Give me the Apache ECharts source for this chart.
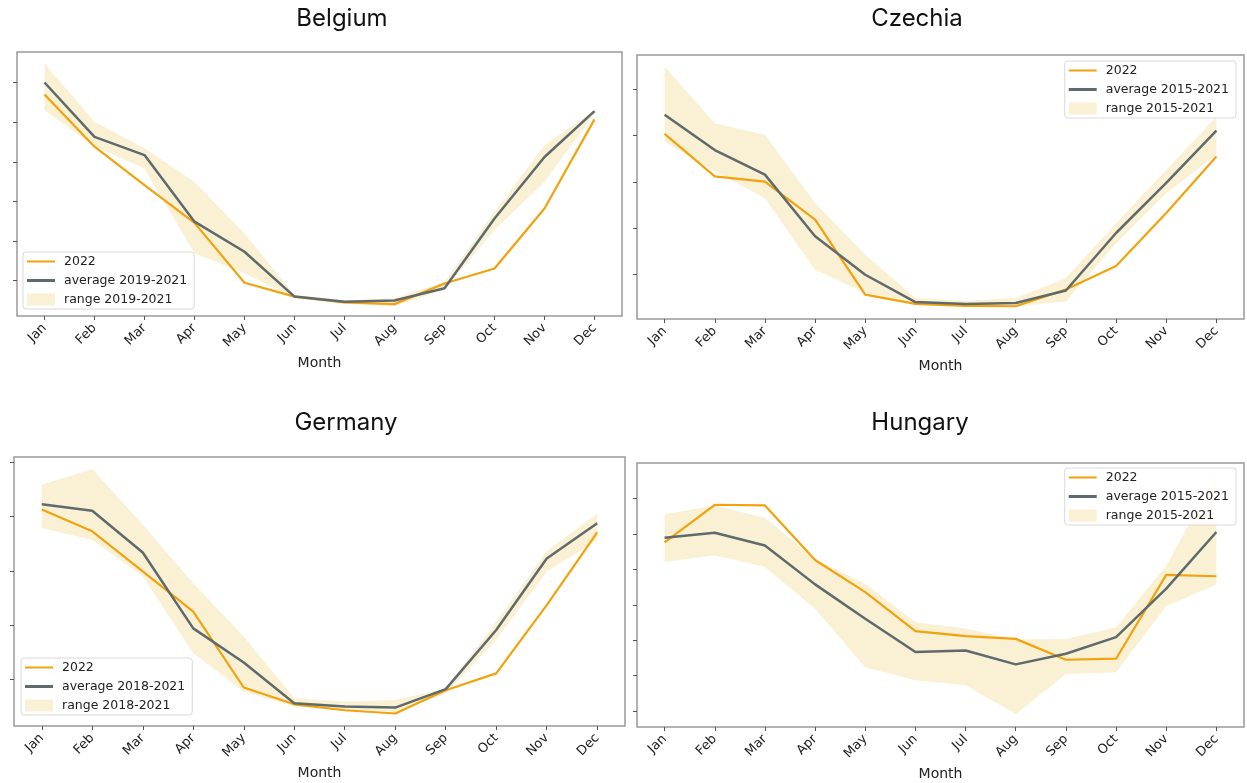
<!DOCTYPE html>
<html>
<head>
<meta charset="utf-8">
<script src="https://cdn.jsdelivr.net/npm/echarts@6/dist/echarts.min.js"></script>
<style>
html,body{margin:0;padding:0;background:#fff;}
#chart{width:1247px;height:783px;}
</style>
</head>
<body>
<div id="chart"></div>
<script>
// ---- data (arbitrary units; y axis carries no labels) ----
const months = ['Jan','Feb','Mar','Apr','May','Jun','Jul','Aug','Sep','Oct','Nov','Dec'];

const belgium2022 = [57.0, 43.8, 34.1, 24.6, 9.5, 6.0, 4.5, 4.1, 9.3, 13.1, 28.2, 50.7];
const belgiumAvg  = [60.0, 46.3, 41.7, 24.9, 17.3, 6.0, 4.7, 5.0, 8.1, 25.7, 41.2, 52.8];
const belgiumLow  = [53.0, 43.9, 38.3, 16.9, 11.9, 5.6, 4.1, 3.6, 7.7, 22.8, 34.9, 52.2];
const belgiumHigh = [64.8, 50.1, 43.4, 34.9, 21.9, 6.4, 5.1, 5.6, 9.7, 27.4, 44.2, 53.0];
const belgiumTicks = [10, 20, 30, 40, 50, 60];

const czechia2022 = [40.4, 31.2, 30.1, 21.9, 5.7, 3.7, 3.3, 3.2, 6.8, 11.9, 23.3, 35.5];
const czechiaAvg  = [44.5, 36.9, 31.6, 18.3, 10.0, 4.1, 3.7, 3.9, 6.6, 19.0, 29.8, 41.1];
const czechiaLow  = [38.7, 32.3, 26.5, 11.1, 6.1, 3.5, 3.2, 3.2, 4.2, 16.8, 27.6, 35.9];
const czechiaHigh = [54.9, 42.7, 40.2, 25.5, 14.3, 5.0, 4.4, 5.0, 9.3, 21.1, 32.6, 44.1];
const czechiaTicks = [10, 20, 30, 40, 50];

const germany2022 = [41.3, 37.3, 29.9, 22.5, 8.5, 5.4, 4.3, 3.7, 8.0, 11.1, 23.7, 37.1];
const germanyAvg  = [42.3, 41.1, 33.4, 19.4, 13.1, 5.6, 5.0, 4.8, 8.2, 19.1, 32.3, 38.8];
const germanyLow  = [37.9, 35.7, 29.0, 14.8, 7.7, 5.0, 4.5, 4.0, 7.4, 17.3, 29.9, 35.7];
const germanyHigh = [45.9, 48.8, 38.5, 27.7, 17.9, 6.5, 5.9, 6.2, 8.3, 20.6, 33.6, 40.6];
const germanyTicks = [10, 20, 30, 40, 50];

const hungary2022 = [57.7, 68.3, 68.1, 52.7, 43.6, 32.6, 31.2, 30.4, 24.5, 24.8, 48.5, 48.1];
const hungaryAvg  = [59.0, 60.4, 56.8, 45.8, 36.1, 26.7, 27.1, 23.2, 26.2, 30.9, 44.6, 60.6];
const hungaryLow  = [52.1, 54.0, 50.7, 38.9, 22.4, 18.7, 17.3, 9.1, 20.5, 21.0, 39.6, 45.8];
const hungaryHigh = [65.6, 68.1, 64.6, 53.0, 46.0, 35.1, 33.3, 30.2, 30.4, 33.7, 51.1, 77.0];
const hungaryTicks = [10, 20, 30, 40, 50, 60, 70];

const panelTitles = ['Belgium', 'Czechia', 'Germany', 'Hungary'];
const avgLabels = ['average 2019-2021', 'average 2015-2021', 'average 2018-2021', 'average 2015-2021'];
const rangeLabels = ['range 2019-2021', 'range 2015-2021', 'range 2018-2021', 'range 2015-2021'];
const currentLabel = '2022';
const xAxisName = 'Month';

// ---- styling / layout ----
const ORANGE = '#F2A20C';
const GRAY = '#5E6A6B';
const BAND = '#FAF0D4';
const TICK_FONT = 'DejaVu Sans';

const panels = [
  {cur: belgium2022, avg: belgiumAvg, low: belgiumLow, high: belgiumHigh, ticks: belgiumTicks,
   grid: {left: 17, top: 52, width: 605, height: 264}, ymin: 1.1, ymax: 67.7,
   title: {x: 342, y: 7}, legend: {left: 23, top: 252}},
  {cur: czechia2022, avg: czechiaAvg, low: czechiaLow, high: czechiaHigh, ticks: czechiaTicks,
   grid: {left: 637, top: 55, width: 607, height: 264}, ymin: 0.45, ymax: 57.4,
   title: {x: 917, y: 7}, legend: {right: 11, top: 61}},
  {cur: germany2022, avg: germanyAvg, low: germanyLow, high: germanyHigh, ticks: germanyTicks,
   grid: {left: 14, top: 457, width: 611, height: 269}, ymin: 1.4, ymax: 51.0,
   title: {x: 346, y: 411}, legend: {left: 21, top: 658}},
  {cur: hungary2022, avg: hungaryAvg, low: hungaryLow, high: hungaryHigh, ticks: hungaryTicks,
   grid: {left: 637, top: 463, width: 607, height: 264}, ymin: 5.5, ymax: 80.1,
   title: {x: 920, y: 411}, legend: {right: 11, top: 468}}
];

const monthIdx = months.map((m, i) => i);
const LINE_ICON_THIN = 'path://M0,0 M0,5.5 L28,5.5 L28,7.5 L0,7.5 Z M32,13';
const LINE_ICON_THICK = 'path://M0,0 M0,5 L28,5 L28,8 L0,8 Z M32,13';
const RECT_ICON = 'path://M0,0 M0,0.5 L28,0.5 L28,12.5 L0,12.5 Z M32,13';

// band polygon built through the axis scales (api.coord) from the low/high data
function renderBand(params, api) {
  if (params.dataIndexInside !== 0) return null;
  const n = params.dataInsideLength;
  const upper = [], lower = [];
  for (let j = 0; j < n; j++) {
    const x = api.value(0, j);
    lower.push(api.coord([x, api.value(1, j)]));
    upper.push(api.coord([x, api.value(2, j)]));
  }
  const pts = lower.concat(upper.reverse());
  return {
    type: 'polygon',
    shape: {points: pts},
    style: {fill: BAND, stroke: null}
  };
}

const option = {
  animation: false,
  backgroundColor: '#fff',
  title: [], grid: [], xAxis: [], yAxis: [], legend: [], series: []
};

panels.forEach((p, k) => {
  option.title.push({
    text: panelTitles[k], left: p.title.x, top: p.title.y, textAlign: 'center', padding: 0,
    textStyle: {fontFamily: 'Inter', fontSize: 24, fontWeight: 'normal', color: '#111'}
  });
  option.grid.push(Object.assign({show: true, borderColor: '#999', borderWidth: 1.5,
    backgroundColor: 'transparent', containLabel: false}, p.grid));
  option.xAxis.push({
    type: 'value', gridIndex: k, min: -0.55, max: 11.55,
    name: xAxisName, nameLocation: 'middle', nameGap: 40,
    nameTextStyle: {fontFamily: TICK_FONT, fontSize: 14, color: '#222'},
    axisLine: {show: false, onZero: false},
    axisTick: {show: true, length: 4, customValues: monthIdx, lineStyle: {color: '#555', width: 1}},
    axisLabel: {show: true, customValues: monthIdx, rotate: 45, margin: 10,
      fontFamily: TICK_FONT, fontSize: 13, color: '#222',
      formatter: v => months[Math.round(v)] || ''},
    splitLine: {show: false}
  });
  option.yAxis.push({
    type: 'value', gridIndex: k, min: p.ymin, max: p.ymax,
    axisLine: {show: false, onZero: false},
    axisTick: {show: true, length: 4, customValues: p.ticks, lineStyle: {color: '#555', width: 1}},
    axisLabel: {show: false},
    splitLine: {show: false}
  });
  option.series.push({
    name: rangeLabels[k], type: 'custom', xAxisIndex: k, yAxisIndex: k,
    renderItem: renderBand, silent: true,
    itemStyle: {color: BAND},
    encode: {x: 0, y: [1, 2]},
    data: p.low.map((v, i) => [i, v, p.high[i]]), z: 1
  });
  option.series.push({
    name: currentLabel, type: 'line', xAxisIndex: k, yAxisIndex: k,
    data: p.cur.map((v, i) => [i, v]), symbol: 'none', showSymbol: false, silent: true,
    itemStyle: {color: ORANGE}, lineStyle: {color: ORANGE, width: 2.2}, emphasis: {disabled: true}, z: 3
  });
  option.series.push({
    name: avgLabels[k], type: 'line', xAxisIndex: k, yAxisIndex: k,
    data: p.avg.map((v, i) => [i, v]), symbol: 'none', showSymbol: false, silent: true,
    itemStyle: {color: GRAY}, lineStyle: {color: GRAY, width: 2.5}, emphasis: {disabled: true}, z: 4
  });
  option.legend.push(Object.assign({
    orient: 'vertical', align: 'left',
    backgroundColor: 'rgba(255,255,255,0.85)', borderColor: '#d9d9d9', borderWidth: 1, borderRadius: 3,
    padding: [3, 7, 3, 4], itemWidth: 32, itemHeight: 13, itemGap: 6,
    symbolKeepAspect: false, selectedMode: false,
    itemStyle: {borderWidth: 0},
    textStyle: {fontFamily: TICK_FONT, fontSize: 12.5, color: '#222'},
    data: [
      {name: currentLabel, icon: LINE_ICON_THIN, itemStyle: {color: ORANGE, borderWidth: 0}},
      {name: avgLabels[k], icon: LINE_ICON_THICK, itemStyle: {color: GRAY, borderWidth: 0}},
      {name: rangeLabels[k], icon: RECT_ICON, itemStyle: {color: BAND, borderWidth: 0}}
    ]
  }, p.legend));
});

const chart = echarts.init(document.getElementById('chart'), null, {renderer: 'canvas'});
chart.setOption(option);
</script>
</body>
</html>
